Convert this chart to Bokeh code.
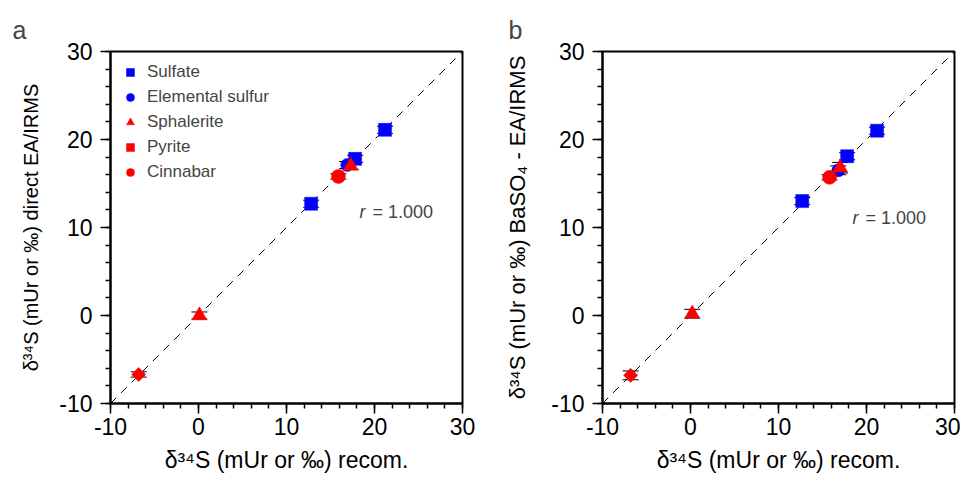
import math
from bokeh.plotting import figure
from bokeh.models import (Range1d, FixedTicker, Whisker, TeeHead, ColumnDataSource,
                          Label, Legend, LegendItem)
from bokeh.layouts import row
from bokeh.embed import file_html
from bokeh.resources import INLINE

FONT = "Liberation Sans"

# ---------------- data ----------------
series_names = ["Sulfate", "Elemental sulfur", "Sphalerite", "Pyrite", "Cinnabar"]

# panel a : recommended vs direct EA/IRMS
a_sulfate_x = [12.8, 17.8, 21.2]
a_sulfate_y = [12.7, 17.8, 21.1]
a_sulfate_e = [0.4, 0.4, 0.4]
a_elem_x = [16.9]
a_elem_y = [17.1]
a_elem_e = [0.4]
a_sphal_x = [0.1, 17.3]
a_sphal_y = [0.0, 17.0]
a_sphal_e = [0.4, 0.4]
a_pyrite_x = [-6.8]
a_pyrite_y = [-6.7]
a_pyrite_e = [0.3]
a_cinn_x = [15.9]
a_cinn_y = [15.8]
a_cinn_e = [0.3]

# panel b : recommended vs BaSO4 - EA/IRMS
b_sulfate_x = [12.7, 17.8, 21.2]
b_sulfate_y = [13.0, 18.1, 21.0]
b_sulfate_e = [0.4, 0.4, 0.4]
b_elem_x = [16.8]
b_elem_y = [16.5]
b_elem_e = [0.5]
b_sphal_x = [0.2, 17.0]
b_sphal_y = [0.2, 16.8]
b_sphal_e = [0.5, 0.6]
b_pyrite_x = [-6.8]
b_pyrite_y = [-6.8]
b_pyrite_e = [0.5]
b_cinn_x = [15.8]
b_cinn_y = [15.7]
b_cinn_e = [0.3]

axis_ticks = [-10, 0, 10, 20, 30]
axis_tick_labels = ["-10", "0", "10", "20", "30"]
minor_ticks = list(range(-10, 31, 2))
r_text = "= 1.000"

markers = ["square", "circle", "triangle", "square", "circle"]
angles = [0, 0, 0, math.pi / 4, 0]
colors = ["#0000ff", "#0000ff", "#ff0000", "#ff0000", "#ff0000"]
sizes = [13, 13, 15, 10, 14]


def make_panel(series, ylabel, ylabel_size, letter, letter_offset, r_xy, width,
               border_left, border_right, ylab_standoff, with_legend):
    p = figure(width=width, height=478,
               min_border_left=border_left, min_border_right=border_right,
               min_border_top=51, min_border_bottom=75,
               x_range=Range1d(-10, 30), y_range=Range1d(-10, 30),
               output_backend="svg", toolbar_location=None)
    p.grid.visible = False
    p.outline_line_color = "black"
    p.outline_line_width = 2
    p.background_fill_color = "white"
    p.border_fill_color = "white"

    p.title.text = letter
    p.title.align = "left"
    p.title.offset = letter_offset
    p.title.text_font = FONT
    p.title.text_font_size = "25px"
    p.title.text_font_style = "normal"
    p.title.standoff = 15

    overrides = {t: s for t, s in zip(axis_ticks, axis_tick_labels)}
    for ax in (p.xaxis[0], p.yaxis[0]):
        ax.ticker = FixedTicker(ticks=axis_ticks, minor_ticks=minor_ticks)
        ax.major_label_overrides = overrides
        ax.axis_line_width = 2
        ax.major_tick_line_width = 1.5
        ax.minor_tick_line_width = 1.5
        ax.major_tick_in = 0
        ax.major_tick_out = 10
        ax.minor_tick_in = 0
        ax.minor_tick_out = 5
        ax.major_label_text_font = FONT
        ax.major_label_text_font_size = "23px"
        ax.major_label_text_color = "black"
        ax.axis_label_text_font = FONT
        ax.axis_label_text_font_style = "normal"
        ax.axis_label_text_color = "black"
    p.xaxis[0].axis_label = "δ³⁴S (mUr or ‰) recom."
    p.xaxis[0].axis_label_text_font_size = "23px"
    p.xaxis[0].major_label_standoff = 4
    p.xaxis[0].axis_label_standoff = 9
    p.yaxis[0].axis_label = ylabel
    p.yaxis[0].axis_label_text_font_size = ylabel_size
    p.yaxis[0].major_label_standoff = 8
    p.yaxis[0].axis_label_standoff = ylab_standoff

    # 1:1 line
    p.line(x=axis_ticks, y=axis_ticks, line_color="black", line_width=1, line_dash="8 7")

    items = []
    for i, (xs, ys, es) in enumerate(series):
        src = ColumnDataSource(dict(x=xs, y=ys,
                                    lo=[v - e for v, e in zip(ys, es)],
                                    hi=[v + e for v, e in zip(ys, es)]))
        w = Whisker(source=src, base="x", lower="lo", upper="hi", dimension="height",
                    line_color="black", line_width=1,
                    lower_head=TeeHead(size=16, line_color="black", line_width=1),
                    upper_head=TeeHead(size=16, line_color="black", line_width=1),
                    level="underlay")
        p.add_layout(w)
        r = p.scatter(x="x", y="y", source=src, marker=markers[i], size=sizes[i],
                      angle=angles[i], fill_color=colors[i], line_color=colors[i], line_width=0.5)
        items.append(LegendItem(label=series_names[i], renderers=[r]))

    if with_legend:
        leg = Legend(items=items, location="top_left", margin=10, padding=10,
                     border_line_color=None, background_fill_alpha=0,
                     label_text_font=FONT, label_text_font_size="17px",
                     glyph_width=20, glyph_height=22, label_height=22,
                     label_standoff=7, spacing=3)
        p.add_layout(leg, "center")

    p.add_layout(Label(x=r_xy[0], y=r_xy[1], text="r", text_font=FONT, text_font_style="italic",
                       text_font_size="18px", text_baseline="alphabetic", text_align="left"))
    p.add_layout(Label(x=r_xy[0], y=r_xy[1], x_offset=13, text=r_text, text_font=FONT,
                       text_font_size="18px", text_baseline="alphabetic", text_align="left"))
    return p


series_a = [(a_sulfate_x, a_sulfate_y, a_sulfate_e), (a_elem_x, a_elem_y, a_elem_e),
            (a_sphal_x, a_sphal_y, a_sphal_e), (a_pyrite_x, a_pyrite_y, a_pyrite_e),
            (a_cinn_x, a_cinn_y, a_cinn_e)]
series_b = [(b_sulfate_x, b_sulfate_y, b_sulfate_e), (b_elem_x, b_elem_y, b_elem_e),
            (b_sphal_x, b_sphal_y, b_sphal_e), (b_pyrite_x, b_pyrite_y, b_pyrite_e),
            (b_cinn_x, b_cinn_y, b_cinn_e)]

pa = make_panel(series_a, "δ³⁴S (mUr or ‰) direct EA/IRMS", "20px",
                "a", -98, (18.3, 11.8), 492, 110, 30, 14, True)
pb = make_panel(series_b, "δ³⁴S (mUr or ‰) BaSO₄ - EA/IRMS", "22px", "b", -94, (18.4, 11.1),
                468, 110, 6, 18, False)

layout = row(pa, pb)
open("out.html", "w").write(file_html(layout, INLINE))
